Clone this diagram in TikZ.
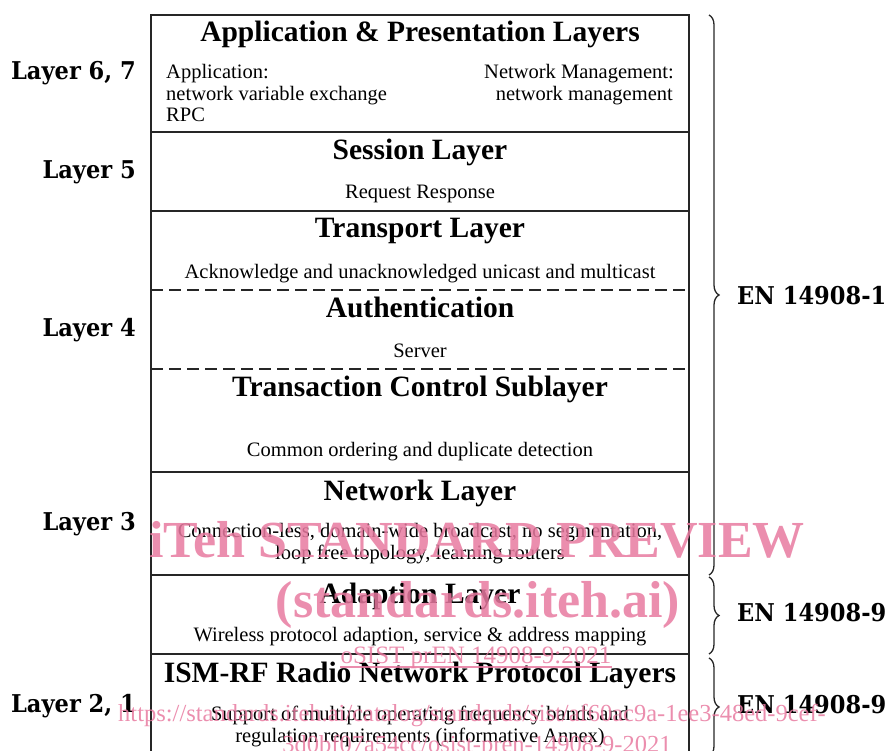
\documentclass[tikz,border=0pt]{standalone}
\usepackage{graphicx}
\usepackage{fontspec}
\setmainfont{Liberation Serif}
\newfontfamily\sidefont{DejaVu Serif}
\newcommand\sqz[1]{\scalebox{0.92}[1]{#1}}
\usetikzlibrary{decorations.pathreplacing}
\definecolor{wmpink}{RGB}{232,122,160}
\tikzset{
  titletext/.style={font=\bfseries\fontsize{29.5}{30}\selectfont, inner sep=0pt, anchor=base},
  bodytext/.style={font=\fontsize{20.5}{21}\selectfont, inner sep=0pt, anchor=base},
  sidelabel/.style={font=\sidefont\bfseries\fontsize{24.5}{25}\selectfont, inner sep=0pt},
  boxline/.style={line width=1.5pt, black!85},
  dashline/.style={line width=1.5pt, black!85, dash pattern=on 12pt off 6pt},
  bracepath/.style={line width=1.3pt, black!85, decorate, decoration={brace, amplitude=10pt}},
  wmbig/.style={text=wmpink, opacity=0.85, inner sep=0pt, anchor=base, font=\bfseries\fontsize{52}{52}\selectfont},
  wmsmall/.style={text=wmpink, opacity=0.85, inner sep=0pt, anchor=base, font=\fontsize{24.5}{25}\selectfont}
}
\begin{document}
\begin{tikzpicture}[x=1pt,y=-1pt]
\useasboundingbox (0,0) rectangle (888,751);
\begin{scope}
\clip (0,0) rectangle (888,751);
% outer box
\draw[boxline] (151,760) -- (151,15) -- (689,15) -- (689,760);
\draw[boxline] (151,132) -- (689,132);
\draw[boxline] (151,211) -- (689,211);
\draw[dashline] (151,290) -- (689,290);
\draw[dashline] (151,369) -- (689,369);
\draw[boxline] (151,472) -- (689,472);
\draw[boxline] (151,575) -- (689,575);
\draw[boxline] (151,654) -- (689,654);

% braces
\coordinate (b1s) at (709,15);
\coordinate (b1e) at (709,575);
\coordinate (b2s) at (709,577);
\coordinate (b2e) at (709,654);
\coordinate (b3s) at (709,658);
\coordinate (b3e) at (709,756);
\draw[bracepath] (b1s) -- (b1e);
\draw[bracepath] (b2s) -- (b2e);
\draw[bracepath] (b3s) -- (b3e);

% box texts
\node[titletext] (t1) at (420,42) {Application \& Presentation Layers};
\node[bodytext, anchor=base west] (a1) at (166,79) {Application:};
\node[bodytext, anchor=base west] (a2) at (166,101) {network variable exchange};
\node[bodytext, anchor=base west] (a3) at (166,122) {RPC};
\node[bodytext, anchor=base east] (n1) at (674,79) {Network Management:};
\node[bodytext, anchor=base east] (n2) at (673,101) {network management};

\node[titletext] (t2) at (420,160) {Session Layer};
\node[bodytext] (s1) at (420,199) {Request Response};

\node[titletext] (t3) at (420,238) {Transport Layer};
\node[bodytext] (tr1) at (420,278) {Acknowledge and unacknowledged unicast and multicast};

\node[titletext] (t4) at (420,317) {Authentication};
\node[bodytext] (au1) at (420,357) {Server};

\node[titletext] (t5) at (420,396) {Transaction Control Sublayer};
\node[bodytext] (tc1) at (420,456) {Common ordering and duplicate detection};

\node[titletext] (t6) at (420,500) {Network Layer};
\node[bodytext] (nl1) at (420,537) {Connection-less, domain-wide broadcast, no segmentation,};
\node[bodytext] (nl2) at (420,559) {loop free topology, learning routers};

\node[titletext] (t7) at (420,603) {Adaption Layer};
\node[bodytext] (ad1) at (420,641) {Wireless protocol adaption, service \& address mapping};

\node[titletext] (t8) at (420,682) {ISM-RF Radio Network Protocol Layers};
\node[bodytext] (is1) at (420,720) {Support of multiple operating frequency bands and};
\node[bodytext] (is2) at (420,742) {regulation requirements (informative Annex)};

% side labels
\node[sidelabel, anchor=base east] (l67) at (136,80) {\sqz{Layer 6, 7}};
\node[sidelabel, anchor=base east] (l5) at (136,179) {\sqz{Layer 5}};
\node[sidelabel, anchor=base east] (l4) at (136,336) {\sqz{Layer 4}};
\node[sidelabel, anchor=base east] (l3) at (136,530) {\sqz{Layer 3}};
\node[sidelabel, anchor=base east] (l21) at (136,712) {\sqz{Layer 2, 1}};
\node[sidelabel, anchor=base west] (en1) at (737,304) {\sqz{EN 14908-1}};
\node[sidelabel, anchor=base west] (en9a) at (737,621) {\sqz{EN 14908-9}};
\node[sidelabel, anchor=base west] (en9b) at (737,713) {\sqz{EN 14908-9}};

% watermark
\node[wmbig] (w1) at (477,557) {iTeh STANDARD PREVIEW};
\node[wmbig] (w2) at (478,617) {(standards.iteh.ai)};
\node[wmsmall, font=\fontsize{25}{25}\selectfont] (w3) at (476,663) {oSIST prEN 14908-9:2021};
\draw[wmpink, opacity=0.85, line width=1.2pt] (w3.base west) ++(0,4) -- ([yshift=-4pt]w3.base east);
\node[wmsmall] (w4) at (472,721) {https://standards.iteh.ai/catalog/standards/sist/af60ac9a-1ee3-48ed-9cef-};
\node[wmsmall] (w5) at (477,752) {3d0bf07a54cc/osist-pren-14908-9-2021};
\end{scope}
\end{tikzpicture}
\end{document}
